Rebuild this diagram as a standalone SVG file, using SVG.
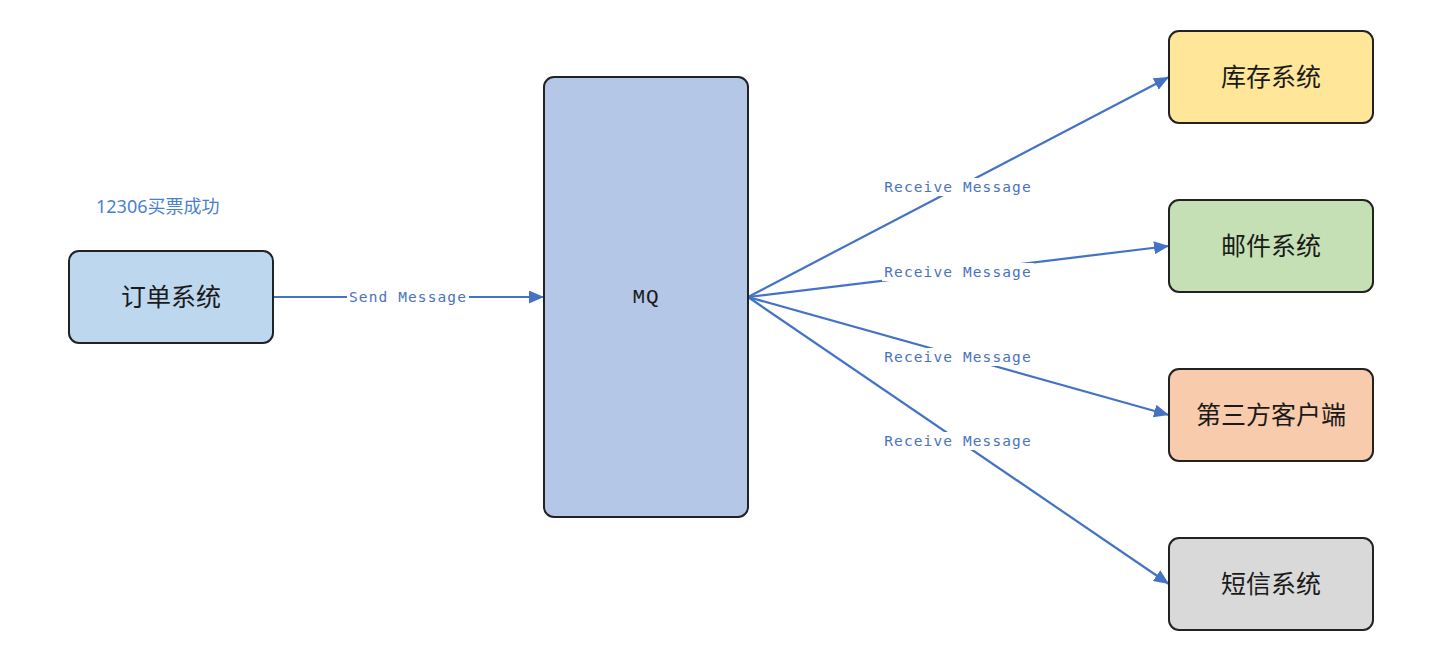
<svg xmlns="http://www.w3.org/2000/svg" width="1448" height="652" viewBox="0 0 1448 652">
<style>
.box{stroke:#222;stroke-width:2}
.lbl{font-family:"Noto Sans CJK SC","Noto Sans",sans-serif;font-size:25px;fill:#1a1a1a;text-anchor:middle;dominant-baseline:central}
.edge{stroke:#4472c4;stroke-width:2.2;fill:none;marker-end:url(#ah)}
.elbl{font-family:"DejaVu Sans Mono","Liberation Mono",monospace;font-size:14.5px;letter-spacing:1.1px;fill:#4a72c0;text-anchor:middle;dominant-baseline:central}
.bg{fill:#fff}
</style>
<defs>
<marker id="ah" markerUnits="userSpaceOnUse" markerWidth="15" markerHeight="13" refX="15" refY="6.5" orient="auto">
<path d="M0,0 L15,6.5 L0,13 Z" fill="#4472c4"/>
</marker>
</defs>
<rect width="1448" height="652" fill="#fff"/>
<g id="connectors">
<path class="edge" d="M273,297 L544,297"/>
<path class="edge" d="M748,297 L1169,77"/>
<path class="edge" d="M748,297 L1169,246"/>
<path class="edge" d="M748,297 L1169,415"/>
<path class="edge" d="M748,297 L1169,584"/>
<rect class="bg" x="347" y="289" width="122" height="17"/>
<text class="elbl" x="408" y="297">Send Message</text>
<rect class="bg" x="882" y="178" width="152" height="18"/>
<text class="elbl" x="958" y="187">Receive Message</text>
<rect class="bg" x="882" y="263" width="152" height="18"/>
<text class="elbl" x="958" y="272">Receive Message</text>
<rect class="bg" x="882" y="348" width="152" height="18"/>
<text class="elbl" x="958" y="357">Receive Message</text>
<rect class="bg" x="882" y="432" width="152" height="18"/>
<text class="elbl" x="958" y="441">Receive Message</text>
</g>
<g id="note">
<text x="96" y="206" font-family="'Noto Sans','Noto Sans CJK SC',sans-serif" font-size="18" fill="#4a7fd0" dominant-baseline="central">12306买票成功</text>
</g>
<g id="order">
<rect class="box" x="69" y="251" width="204" height="92" rx="10" fill="#bdd7ee"/>
<text class="lbl" x="171" y="295">订单系统</text>
</g>
<g id="mq">
<rect class="box" x="544" y="77" width="204" height="440" rx="10" fill="#b4c7e7"/>
<text x="646" y="297" font-family="'Liberation Mono','DejaVu Sans Mono',monospace" font-size="21" letter-spacing="1" fill="#1a1a1a" text-anchor="middle" dominant-baseline="central">MQ</text>
</g>
<g id="stock">
<rect class="box" x="1169" y="31" width="204" height="92" rx="10" fill="#ffe699"/>
<text class="lbl" x="1271" y="75">库存系统</text>
</g>
<g id="mail">
<rect class="box" x="1169" y="200" width="204" height="92" rx="10" fill="#c5e0b4"/>
<text class="lbl" x="1271" y="244">邮件系统</text>
</g>
<g id="third">
<rect class="box" x="1169" y="369" width="204" height="92" rx="10" fill="#f8cbad"/>
<text class="lbl" x="1271" y="413">第三方客户端</text>
</g>
<g id="sms">
<rect class="box" x="1169" y="538" width="204" height="92" rx="10" fill="#d9d9d9"/>
<text class="lbl" x="1271" y="582">短信系统</text>
</g>
</svg>
